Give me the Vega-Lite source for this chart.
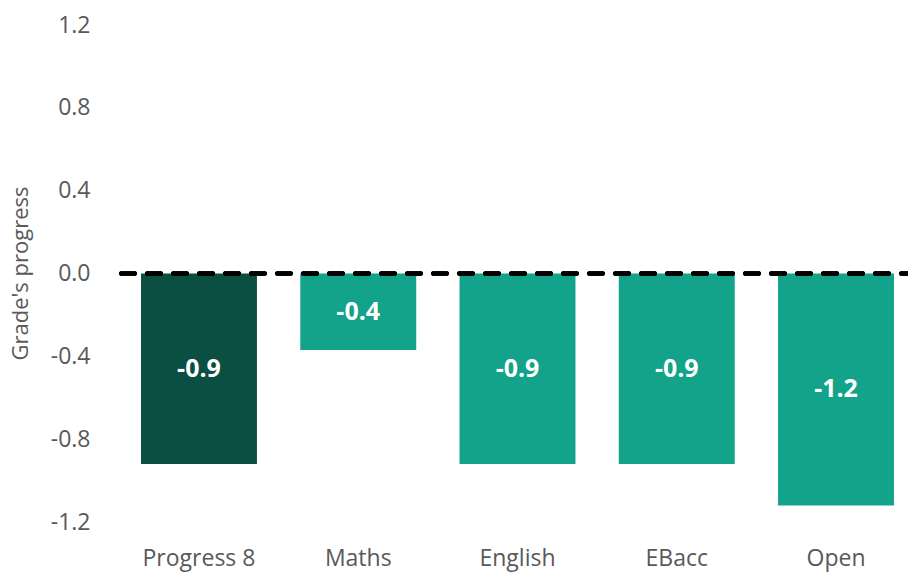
{
  "$schema": "https://vega.github.io/schema/vega-lite/v6.json",
  "width": 795,
  "height": 497,
  "autosize": "none",
  "padding": {"left": 120, "top": 25, "right": -7, "bottom": 57},
  "background": "white",
  "config": {"view": {"stroke": null}, "font": "Open Sans"},
  "data": {"values": [
    {"measure": "Progress 8", "value": -0.92, "label": "-0.9", "group": "overall"},
    {"measure": "Maths", "value": -0.37, "label": "-0.4", "group": "element"},
    {"measure": "English", "value": -0.92, "label": "-0.9", "group": "element"},
    {"measure": "EBacc", "value": -0.92, "label": "-0.9", "group": "element"},
    {"measure": "Open", "value": -1.12, "label": "-1.2", "group": "element"}
  ]},
  "layer": [
    {
      "mark": {"type": "bar"},
      "encoding": {
        "x": {"field": "measure", "type": "nominal", "sort": null,
          "scale": {"paddingInner": 0.272, "paddingOuter": 0.132},
          "axis": {"title": null, "labelAngle": 0, "labelFontSize": 23, "labelColor": "#595959", "labelPadding": 25, "ticks": false, "domain": false}},
        "y": {"field": "value", "type": "quantitative",
          "scale": {"domain": [-1.2, 1.2], "nice": false, "zero": false},
          "axis": {"values": [-1.2, -0.8, -0.4, 0, 0.4, 0.8, 1.2], "labelExpr": "replace(format(datum.value, '.1f'), '\u2212', '-')", "grid": false, "ticks": false, "domain": false,
            "labelFontSize": 23, "labelColor": "#595959", "labelPadding": 30,
            "title": "Grade's progress", "titleFontSize": 22, "titleFontWeight": "normal", "titleColor": "#595959", "titleX": -100, "titleY": 248, "titleAlign": "center", "titleBaseline": "middle"}},
        "color": {"field": "group", "type": "nominal", "scale": {"domain": ["overall", "element"], "range": ["#0b4f42", "#13a28a"]}, "legend": null}
      }
    },
    {
      "transform": [{"calculate": "datum.value / 2", "as": "mid"}],
      "mark": {"type": "text", "color": "white", "fontSize": 25, "fontWeight": "bold", "baseline": "middle", "align": "center"},
      "encoding": {
        "x": {"field": "measure", "type": "nominal", "sort": null},
        "y": {"field": "mid", "type": "quantitative"},
        "text": {"field": "label"}
      }
    },
    {
      "mark": {"type": "rule", "color": "black", "strokeWidth": 4, "strokeDash": [14, 12], "strokeCap": "round"},
      "encoding": {"y": {"datum": 0}}
    }
  ]
}
